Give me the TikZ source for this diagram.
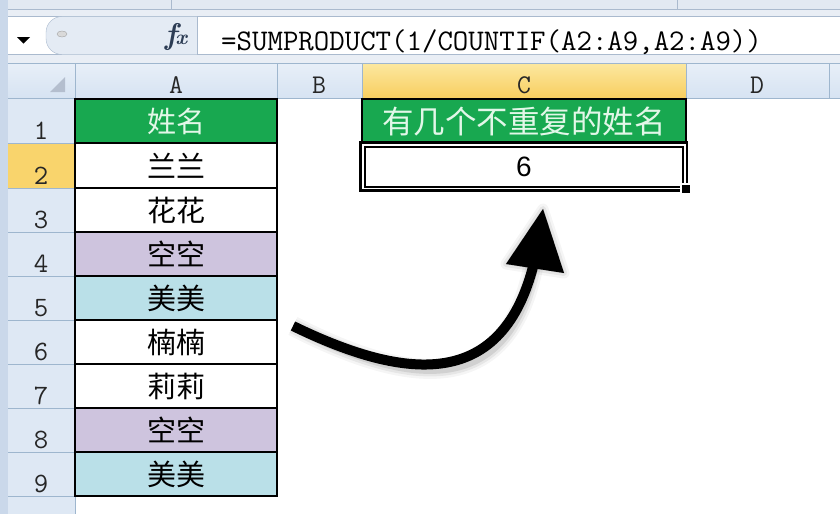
\documentclass[tikz,border=0pt]{standalone}
\usepackage{fontspec}
\newfontfamily\cjk{Noto Sans CJK SC}
\newfontfamily\arial{Liberation Sans}
\definecolor{xgreen}{RGB}{24,168,80}
\definecolor{xmint}{RGB}{226,247,232}
\definecolor{xlav}{RGB}{206,196,222}
\definecolor{xcyan}{RGB}{186,224,232}
\definecolor{hdr}{RGB}{222,232,244}
\definecolor{hdrtop}{RGB}{232,239,248}
\definecolor{hdrbot}{RGB}{214,227,242}
\definecolor{hdrline}{RGB}{158,182,206}
\definecolor{seltop}{RGB}{252,232,160}
\definecolor{selbot}{RGB}{248,206,96}
\definecolor{hsel}{RGB}{249,212,108}
\definecolor{frame}{RGB}{202,216,234}
\definecolor{barbg}{RGB}{233,238,245}
\definecolor{topband}{RGB}{226,233,242}
\definecolor{barline}{RGB}{170,186,206}
\definecolor{btn}{RGB}{228,235,244}
\definecolor{tri}{RGB}{180,190,206}
\definecolor{fxcol}{RGB}{44,60,84}
\tikzset{
  cellline/.style={draw=black, line width=2.2pt},
  hdrtxt/.style={font=\fontsize{27}{27}\selectfont\ttfamily, text=black!85, inner sep=0, anchor=base},
  rowtxt/.style={font=\fontsize{28}{28}\selectfont\ttfamily, text=black!85, inner sep=0, anchor=base},
  nametxt/.style={font=\fontsize{29}{29}\selectfont\cjk, text=black, inner sep=0},
  headtxt/.style={font=\fontsize{29}{29}\selectfont\cjk, text=xmint, inner sep=0},
}
\begin{document}
\begin{tikzpicture}[x=1pt,y=-1pt]
\useasboundingbox (0,0) rectangle (840,514);
\fill[white] (0,0) rectangle (840,514);
% window top band and formula bar
\fill[barbg] (0,0) rectangle (840,63);
\fill[topband] (0,0) rectangle (840,9);
\draw[barline] (0,9.5) -- (840,9.5);
\draw[barline] (171,0) -- (171,9);
\draw[barline] (677,0) -- (677,9);
\fill[white] (0,16.5) rectangle (840,54.5);
\draw[barline] (0,16.5) -- (840,16.5);
\draw[barline] (0,54.5) -- (840,54.5);
\draw[barline, fill=btn, rounded corners=16] (197,16.5) -- (46,16.5) -- (46,54.5) -- (197,54.5);
\draw[barline] (197,16.5) -- (197,54.5);
\fill (17,37) -- (30,37) -- (23.5,43.5) -- cycle;
\draw[black!35, fill=black!15] (62,34) ellipse (5 and 3);
\node[text=fxcol, inner sep=0] (fx) at (176,37) {\fontsize{30}{30}\selectfont\bfseries\itshape f\kern-1.5pt\fontsize{21}{21}\selectfont x};
\node[anchor=base west, inner sep=0] (formula) at (221,50) {\fontsize{30}{30}\selectfont\ttfamily =SUMPRODUCT(1/COUNTIF(A2:A9,A2:A9))};
% headers
\shade[top color=hdrtop, bottom color=hdrbot] (8,63) rectangle (840,98);
\shade[top color=seltop, bottom color=selbot] (362,63) rectangle (686,98);
\fill[hdr] (8,98) rectangle (75,514);
\fill[hsel] (8,143) rectangle (75,188);
\fill[frame] (0,0) rectangle (8,514);
\draw[hdrline] (8,63) -- (840,63);
\draw[hdrline] (8,98) -- (840,98);
\foreach \x in {75,277,362,686,829} { \draw[hdrline] (\x,63) -- (\x,98); }
\draw[hdrline] (75,98) -- (75,514);
\foreach \y in {143,188,232,276,320,364,408,452,496} { \draw[hdrline] (8,\y) -- (75,\y); }
\fill[tri] (50,92) -- (65,92) -- (65,77) -- cycle;
\node[hdrtxt] (hA) at (176,93) {A};
\node[hdrtxt] (hB) at (319,93) {B};
\node[hdrtxt] (hC) at (524,93) {C};
\node[hdrtxt] (hD) at (757,93) {D};
\foreach \i/\b in {1/143,2/188,3/232,4/276,5/320,6/364,7/408,8/452,9/496} {
  \node[rowtxt] (r\i) at (41,\b-4) {\i};
}
% column A cells
\draw[cellline, fill=xgreen] (75,99) rectangle (277,143);
\node[headtxt] (A1) at (176,121) {姓名};
\foreach \i/\t/\b/\f/\txt in {2/143/188/white/兰兰, 3/188/232/white/花花, 4/232/276/xlav/空空, 5/276/320/xcyan/美美, 6/320/364/white/楠楠, 7/364/408/white/莉莉, 8/408/452/xlav/空空, 9/452/496/xcyan/美美} {
  \draw[cellline, fill=\f] (75,\t) rectangle (277,\b);
  \node[nametxt] (A\i) at (176,{(\t+\b)/2}) {\txt};
}
% column C cells
\draw[cellline, fill=xgreen] (362,99) rectangle (686,143);
\node[font=\fontsize{31.5}{31.5}\selectfont\cjk, text=xmint, inner sep=0] (C1) at (524,121) {有几个不重复的姓名};
\fill[white] (362,143) rectangle (686,190);
\draw[line width=2.2pt] (360.5,142.5) rectangle (687,190.5);
\draw[line width=2pt] (365,147) rectangle (683,186.5);
\fill[white] (680,183) rectangle (692,195);
\fill[black] (682,185) rectangle (690,193);
\node[font=\fontsize{28}{28}\selectfont\arial, inner sep=0] (C2) at (524,167) {6};
% arrow
\coordinate (tail) at (293,326);
\coordinate (head) at (534,263);
\coordinate (tip) at (543,209);
\coordinate (bl) at (506,264);
\coordinate (br) at (564,273);
\begin{scope}[shift={(6,6)}]
  \foreach \w/\o in {20/0.04,15/0.06,10/0.09} {
    \draw[line width=\w pt, black, opacity=\o] (tail) .. controls (410,383) and (503,388) .. (head);
    \draw[line width=\w pt-9pt, black, opacity=\o, fill=black, line join=round] (tip) -- (bl) -- (br) -- cycle;
  }
\end{scope}
\draw[line width=10pt, black] (tail) .. controls (410,383) and (503,388) .. (head);
\fill[black] (tip) -- (bl) -- (br) -- cycle;
\end{tikzpicture}
\end{document}
